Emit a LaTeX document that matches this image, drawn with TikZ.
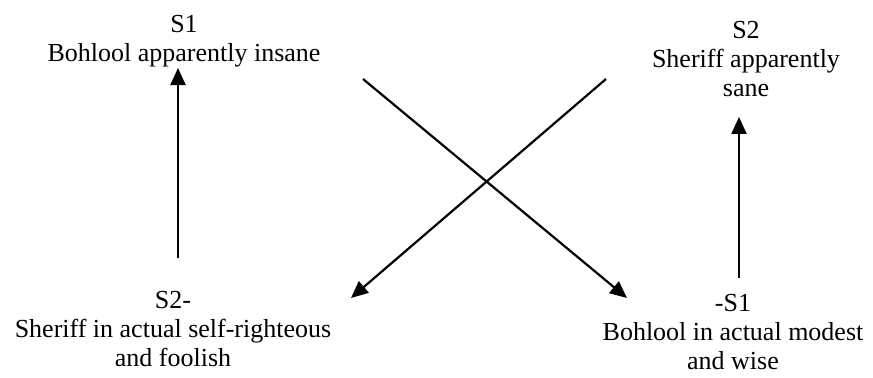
\documentclass[tikz,border=0pt]{standalone}
\usepackage{fontspec}
\setmainfont{Liberation Serif}
\usetikzlibrary{arrows.meta,positioning}
\tikzset{
  lbl/.style={align=center,font=\fontsize{13}{14.5}\selectfont,inner sep=0pt,anchor=base},
  arr/.style={-{Triangle[length=8.5pt,width=7.5pt]},line width=1.1pt,color=black},
}
\begin{document}
\begin{tikzpicture}[x=0.5pt,y=-0.5pt]
    \useasboundingbox (0,0) rectangle (873,378);
    % apparent states (top), placed by last baseline
    \node[lbl] (s1) at (184,62) {S1\\Bohlool apparently insane};
    \node[lbl] (s2) at (746,97) {S2\\Sheriff apparently\\sane};
    % actual states (bottom)
    \node[lbl] (sm2) at (173,367) {S2-\\Sheriff in actual self-righteous\\and foolish};
    \node[lbl] (ms1) at (733,370) {-S1\\Bohlool in actual modest\\and wise};
    % free arrow ends
    \coordinate (up1) at (178,258);
    \coordinate (up2) at (739,278);
    \coordinate (tip2) at (739,117);
    \coordinate (x1) at (363,79);
    \coordinate (x1e) at (627,298);
    \coordinate (x2) at (606,79);
    \coordinate (x2e) at (351,298);
    \draw[arr] (up1) -- (up1 |- s1.south);
    \draw[arr] (up2) -- (tip2);
    \draw[arr] (x1) -- (x1e);
    \draw[arr] (x2) -- (x2e);
\end{tikzpicture}
\end{document}
